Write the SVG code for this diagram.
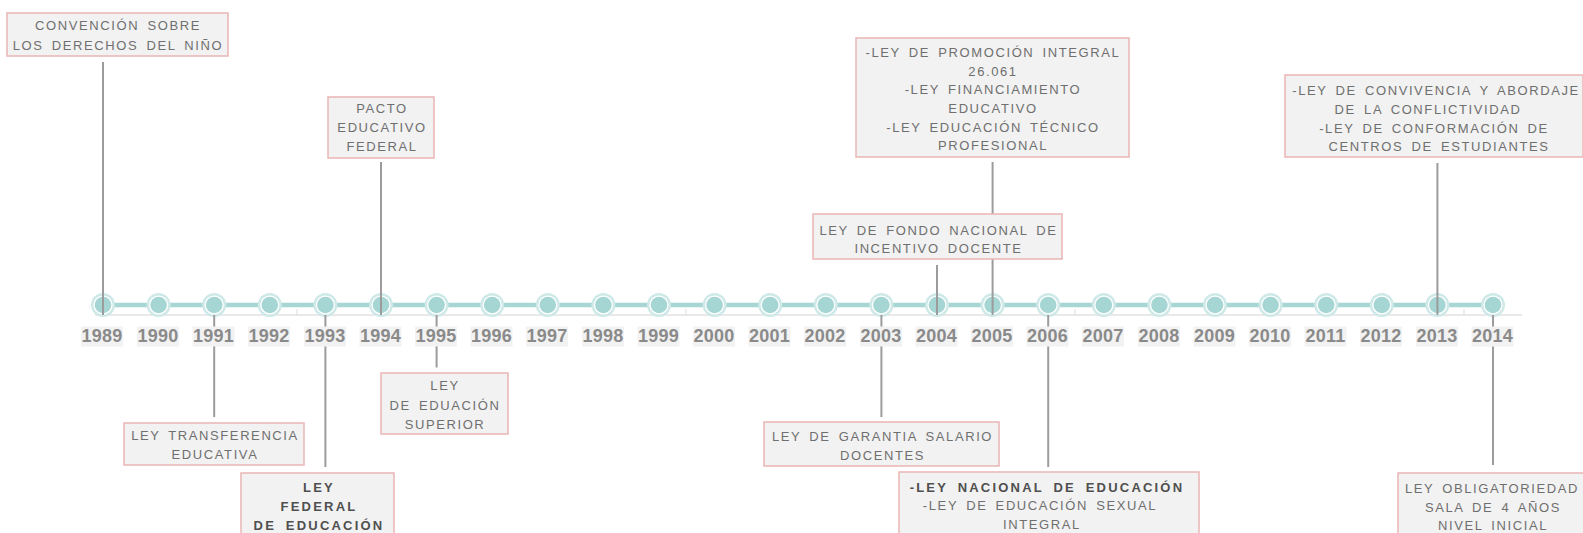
<svg xmlns="http://www.w3.org/2000/svg" xmlns:xlink="http://www.w3.org/1999/xlink" width="1583" height="533" viewBox="0 0 1583 533">
<style>
.box{fill:#f2f2f2;stroke:#ebb5b5;stroke-width:1.5}
.t{font-family:"Liberation Sans",Arial,sans-serif;font-size:13px;fill:#6f6f6f;text-anchor:middle;letter-spacing:1.6px;word-spacing:3px}
.b{font-weight:bold;fill:#4f4f4f;letter-spacing:2.2px;word-spacing:4px}
.yr{font-family:"Liberation Sans",Arial,sans-serif;font-size:18px;font-weight:bold;fill:#8a8a8a;text-anchor:middle;letter-spacing:0.3px}
.lb{fill:#f2f2f2}
.con{stroke:#9c9c9c;stroke-width:2;fill:none}
</style>
<defs>
<g id="dot"><circle r="12" fill="#cfe9e8"/><circle r="9.6" fill="#fff"/><circle r="8.3" fill="#a5d6d4"/></g>
</defs>
<rect width="1583" height="533" fill="#fff"/>
<g id="axis">
<line x1="95" y1="315" x2="1522" y2="315" stroke="#e2e2e2" stroke-width="1.5"/>
<g stroke="#e2e2e2" stroke-width="1.2"><line x1="297" y1="309" x2="297" y2="315"/><line x1="686" y1="309" x2="686" y2="315"/><line x1="1075" y1="309" x2="1075" y2="315"/><line x1="1464" y1="309" x2="1464" y2="315"/></g>
<line x1="103" y1="305" x2="1493" y2="305" stroke="#a8d6d4" stroke-width="4.5"/>
<use xlink:href="#dot" x="103" y="305"/><use xlink:href="#dot" x="158.6" y="305"/><use xlink:href="#dot" x="214.2" y="305"/><use xlink:href="#dot" x="269.8" y="305"/><use xlink:href="#dot" x="325.4" y="305"/><use xlink:href="#dot" x="381" y="305"/><use xlink:href="#dot" x="436.6" y="305"/><use xlink:href="#dot" x="492.2" y="305"/><use xlink:href="#dot" x="547.8" y="305"/><use xlink:href="#dot" x="603.4" y="305"/><use xlink:href="#dot" x="659" y="305"/><use xlink:href="#dot" x="714.6" y="305"/><use xlink:href="#dot" x="770.2" y="305"/><use xlink:href="#dot" x="825.8" y="305"/><use xlink:href="#dot" x="881.4" y="305"/><use xlink:href="#dot" x="937" y="305"/><use xlink:href="#dot" x="992.6" y="305"/><use xlink:href="#dot" x="1048.2" y="305"/><use xlink:href="#dot" x="1103.8" y="305"/><use xlink:href="#dot" x="1159.4" y="305"/><use xlink:href="#dot" x="1215" y="305"/><use xlink:href="#dot" x="1270.6" y="305"/><use xlink:href="#dot" x="1326.2" y="305"/><use xlink:href="#dot" x="1381.8" y="305"/><use xlink:href="#dot" x="1437.4" y="305"/><use xlink:href="#dot" x="1493" y="305"/>
</g>
<g id="connectors">
<line class="con" x1="103" y1="62" x2="103" y2="315"/>
<line class="con" x1="381" y1="162" x2="381" y2="315"/>
<line class="con" x1="937" y1="265" x2="937" y2="315"/>
<line class="con" x1="992.6" y1="162" x2="992.6" y2="315"/>
<line class="con" x1="1437.4" y1="163" x2="1437.4" y2="315"/>
<line class="con" x1="214.2" y1="315" x2="214.2" y2="417"/>
<line class="con" x1="325.4" y1="315" x2="325.4" y2="467"/>
<line class="con" x1="436.6" y1="315" x2="436.6" y2="367.5"/>
<line class="con" x1="881.4" y1="315" x2="881.4" y2="417"/>
<line class="con" x1="1048.2" y1="315" x2="1048.2" y2="467"/>
<line class="con" x1="1493" y1="315" x2="1493" y2="465"/>
</g>
<g id="years">
<rect class="lb" x="81" y="326.5" width="42" height="20"/><text class="yr" x="102" y="342">1989</text>
<rect class="lb" x="137" y="326.5" width="42" height="20"/><text class="yr" x="158" y="342">1990</text>
<rect class="lb" x="192.5" y="326.5" width="42" height="20"/><text class="yr" x="213.5" y="342">1991</text>
<rect class="lb" x="248" y="326.5" width="42" height="20"/><text class="yr" x="269" y="342">1992</text>
<rect class="lb" x="304" y="326.5" width="42" height="20"/><text class="yr" x="325" y="342">1993</text>
<rect class="lb" x="359.5" y="326.5" width="42" height="20"/><text class="yr" x="380.5" y="342">1994</text>
<rect class="lb" x="415" y="326.5" width="42" height="20"/><text class="yr" x="436" y="342">1995</text>
<rect class="lb" x="470.5" y="326.5" width="42" height="20"/><text class="yr" x="491.5" y="342">1996</text>
<rect class="lb" x="526" y="326.5" width="42" height="20"/><text class="yr" x="547" y="342">1997</text>
<rect class="lb" x="582" y="326.5" width="42" height="20"/><text class="yr" x="603" y="342">1998</text>
<rect class="lb" x="637.5" y="326.5" width="42" height="20"/><text class="yr" x="658.5" y="342">1999</text>
<rect class="lb" x="693" y="326.5" width="42" height="20"/><text class="yr" x="714" y="342">2000</text>
<rect class="lb" x="748.5" y="326.5" width="42" height="20"/><text class="yr" x="769.5" y="342">2001</text>
<rect class="lb" x="804" y="326.5" width="42" height="20"/><text class="yr" x="825" y="342">2002</text>
<rect class="lb" x="860" y="326.5" width="42" height="20"/><text class="yr" x="881" y="342">2003</text>
<rect class="lb" x="915.5" y="326.5" width="42" height="20"/><text class="yr" x="936.5" y="342">2004</text>
<rect class="lb" x="971" y="326.5" width="42" height="20"/><text class="yr" x="992" y="342">2005</text>
<rect class="lb" x="1026.5" y="326.5" width="42" height="20"/><text class="yr" x="1047.5" y="342">2006</text>
<rect class="lb" x="1082" y="326.5" width="42" height="20"/><text class="yr" x="1103" y="342">2007</text>
<rect class="lb" x="1138" y="326.5" width="42" height="20"/><text class="yr" x="1159" y="342">2008</text>
<rect class="lb" x="1193.5" y="326.5" width="42" height="20"/><text class="yr" x="1214.5" y="342">2009</text>
<rect class="lb" x="1249" y="326.5" width="42" height="20"/><text class="yr" x="1270" y="342">2010</text>
<rect class="lb" x="1304.5" y="326.5" width="42" height="20"/><text class="yr" x="1325.5" y="342">2011</text>
<rect class="lb" x="1360" y="326.5" width="42" height="20"/><text class="yr" x="1381" y="342">2012</text>
<rect class="lb" x="1416" y="326.5" width="42" height="20"/><text class="yr" x="1437" y="342">2013</text>
<rect class="lb" x="1471.5" y="326.5" width="42" height="20"/><text class="yr" x="1492.5" y="342">2014</text>
</g>
<g id="n1989">
<rect class="box" x="7" y="13" width="221" height="43"/>
<text class="t" x="118" y="30">CONVENCIÓN SOBRE</text>
<text class="t" x="118" y="50">LOS DERECHOS DEL NIÑO</text>
</g>
<g id="n1994">
<rect class="box" x="328" y="97" width="106" height="61"/>
<text class="t" x="382" y="113">PACTO</text>
<text class="t" x="382" y="132">EDUCATIVO</text>
<text class="t" x="382" y="151">FEDERAL</text>
</g>
<g id="n1991">
<rect class="box" x="124" y="423" width="180" height="42"/>
<text class="t" x="215" y="439.5">LEY TRANSFERENCIA</text>
<text class="t" x="215" y="458.5">EDUCATIVA</text>
</g>
<g id="n1993">
<rect class="box" x="241" y="473" width="153" height="70"/>
<text class="t b" x="319" y="491.7">LEY</text>
<text class="t b" x="319" y="510.7">FEDERAL</text>
<text class="t b" x="319" y="529.5">DE EDUCACIÓN</text>
</g>
<g id="n1995">
<rect class="box" x="381" y="373" width="127" height="61"/>
<text class="t" x="445" y="390">LEY</text>
<text class="t" x="445" y="410">DE EDUACIÓN</text>
<text class="t" x="445" y="428.5">SUPERIOR</text>
</g>
<g id="n2003">
<rect class="box" x="764" y="422" width="235" height="44"/>
<text class="t" x="882.5" y="441">LEY DE GARANTIA SALARIO</text>
<text class="t" x="882.5" y="460">DOCENTES</text>
</g>
<g id="n2004">
<rect class="box" x="813" y="214" width="249" height="45"/>
<text class="t" x="938.5" y="234.5">LEY DE FONDO NACIONAL DE</text>
<text class="t" x="938.5" y="253">INCENTIVO DOCENTE</text>
</g>
<g id="n2005">
<rect class="box" x="856" y="38" width="273" height="119"/>
<text class="t" x="993" y="57">-LEY DE PROMOCIÓN INTEGRAL</text>
<text class="t" x="993" y="75.7">26.061</text>
<text class="t" x="993" y="94.4">-LEY FINANCIAMIENTO</text>
<text class="t" x="993" y="113">EDUCATIVO</text>
<text class="t" x="993" y="131.7">-LEY EDUCACIÓN TÉCNICO</text>
<text class="t" x="993" y="150.4">PROFESIONAL</text>
</g>
<g id="n2006">
<rect class="box" x="899" y="472" width="300" height="70"/>
<text class="t b" x="1047" y="491.7">-LEY NACIONAL DE EDUCACIÓN</text>
<text class="t" x="1040" y="510">-LEY DE EDUCACIÓN SEXUAL</text>
<text class="t" x="1042" y="528.5">INTEGRAL</text>
</g>
<g id="n2013">
<rect class="box" x="1285" y="75" width="298" height="82"/>
<text class="t" x="1436" y="95">-LEY DE CONVIVENCIA Y ABORDAJE</text>
<text class="t" x="1428" y="114">DE LA CONFLICTIVIDAD</text>
<text class="t" x="1434" y="132.7">-LEY DE CONFORMACIÓN DE</text>
<text class="t" x="1439" y="150.7">CENTROS DE ESTUDIANTES</text>
</g>
<g id="n2014">
<rect class="box" x="1398" y="473" width="192" height="70"/>
<text class="t" x="1492" y="493">LEY OBLIGATORIEDAD</text>
<text class="t" x="1493" y="511.5">SALA DE 4 AÑOS</text>
<text class="t" x="1493" y="529.5">NIVEL INICIAL</text>
</g>
</svg>
